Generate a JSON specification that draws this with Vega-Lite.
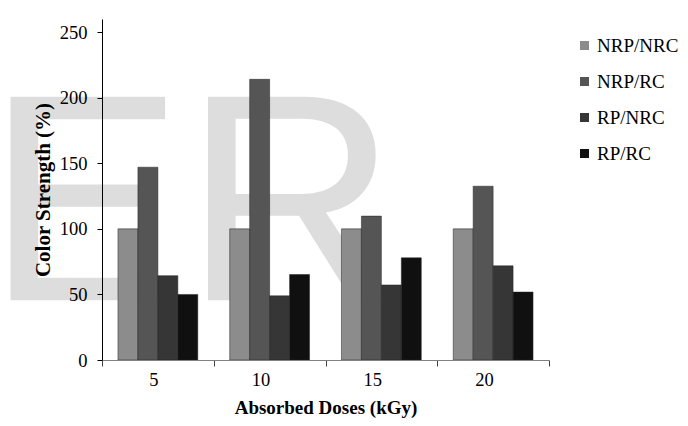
{
  "$schema": "https://vega.github.io/schema/vega-lite/v6.json",
  "autosize": "none",
  "width": 447,
  "height": 341,
  "padding": {"left": 102, "top": 19, "right": 139, "bottom": 66},
  "background": "white",
  "config": {
    "view": {"stroke": null},
    "font": "Liberation Serif"
  },
  "datasets": {
    "bars": [
      {"dose": "5", "series": "NRP/NRC", "value": 100},
      {"dose": "5", "series": "NRP/RC", "value": 147},
      {"dose": "5", "series": "RP/NRC", "value": 64.3},
      {"dose": "5", "series": "RP/RC", "value": 50},
      {"dose": "10", "series": "NRP/NRC", "value": 100},
      {"dose": "10", "series": "NRP/RC", "value": 214},
      {"dose": "10", "series": "RP/NRC", "value": 48.9},
      {"dose": "10", "series": "RP/RC", "value": 65.2},
      {"dose": "15", "series": "NRP/NRC", "value": 100},
      {"dose": "15", "series": "NRP/RC", "value": 109.7},
      {"dose": "15", "series": "RP/NRC", "value": 57.2},
      {"dose": "15", "series": "RP/RC", "value": 77.9},
      {"dose": "20", "series": "NRP/NRC", "value": 100},
      {"dose": "20", "series": "NRP/RC", "value": 132.5},
      {"dose": "20", "series": "RP/NRC", "value": 71.8},
      {"dose": "20", "series": "RP/RC", "value": 51.8}
    ],
    "mark": [{"label": "ER", "dose": "5", "level": 45.5}]
  },
  "layer": [
    {
      "data": {"name": "mark"},
      "mark": {"type": "text", "font": "Liberation Sans", "fontSize": 296, "color": "#dddddd", "align": "center", "baseline": "alphabetic", "dx": 34},
      "encoding": {
        "x": {"field": "dose", "type": "nominal", "sort": ["5", "10", "15", "20"]},
        "y": {"field": "level", "type": "quantitative"},
        "text": {"field": "label"}
      }
    },
    {
      "data": {"name": "bars"},
      "mark": {"type": "bar", "stroke": "#222222", "strokeWidth": 0.5},
      "encoding": {
        "x": {
          "field": "dose", "type": "nominal", "sort": ["5", "10", "15", "20"],
          "scale": {"paddingInner": 0, "paddingOuter": 0},
          "axis": {
            "zindex": 1,
            "title": "Absorbed Doses (kGy)", "titleFont": "Liberation Serif", "titleFontSize": 19, "titleFontWeight": "bold", "titleColor": "#000000", "titlePadding": 10,
            "labelFont": "Liberation Serif", "labelFontSize": 18.5, "labelColor": "#000000", "labelAngle": 0, "labelPadding": 13,
            "domainColor": "#808080", "tickColor": "#404040", "tickSize": 6, "tickBand": "extent"
          }
        },
        "xOffset": {"field": "series", "type": "nominal", "scale": {"paddingInner": 0, "paddingOuter": 0.8}},
        "y": {
          "field": "value", "type": "quantitative",
          "scale": {"domain": [0, 250]},
          "axis": {
            "zindex": 1,
            "title": "Color Strength (%)", "titleFont": "Liberation Serif", "titleFontSize": 21, "titleFontWeight": "bold", "titleColor": "#000000", "titlePadding": 6,
            "values": [0, 50, 100, 150, 200, 250], "grid": false,
            "labelFont": "Liberation Serif", "labelFontSize": 18.5, "labelColor": "#000000", "labelPadding": 10,
            "domainColor": "#000000", "tickColor": "#000000", "tickSize": 5
          }
        },
        "fill": {
          "field": "series", "type": "nominal",
          "scale": {"domain": ["NRP/NRC", "NRP/RC", "RP/NRC", "RP/RC"], "range": ["#8c8c8c", "#555555", "#363636", "#101010"]},
          "legend": {
            "title": null, "orient": "none", "legendX": 473, "legendY": 17,
            "symbolType": "square", "symbolSize": 81, "symbolStrokeWidth": 0,
            "labelFont": "Liberation Serif", "labelFontSize": 19, "labelColor": "#000000", "labelOffset": 3,
            "rowPadding": 16
          }
        }
      }
    }
  ]
}
